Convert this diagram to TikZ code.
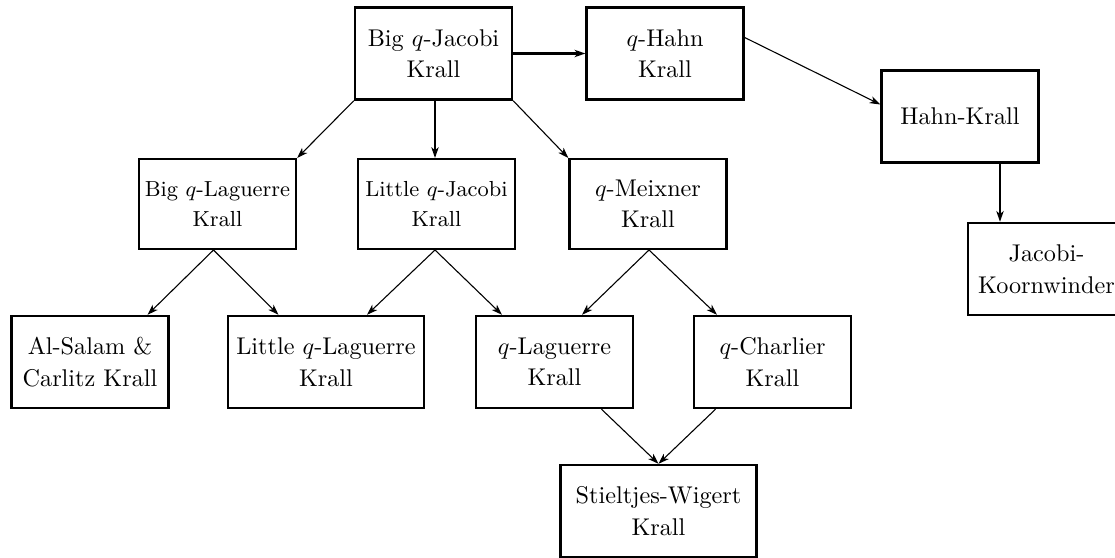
\documentclass[tikz,border=0pt]{standalone}
\usetikzlibrary{arrows.meta,calc}
\begin{document}
\begin{tikzpicture}[x=0.413pt,y=-0.413pt,
  box/.style={draw, line width=1pt, align=center, inner sep=0pt,
    minimum width=64.8pt, minimum height=38pt,
    font=\fontsize{10}{13}\selectfont},
  wide/.style={minimum width=81pt},
  mid/.style={minimum height=37pt, font=\fontsize{9}{12.4}\selectfont},
  midn/.style={minimum height=37pt},
  conn/.style={-{Stealth[length=4.4pt,width=3pt,inset=1.2pt]}, line width=0.45pt},
  tconn/.style={-{Stealth[length=4.4pt,width=3pt,inset=1.2pt]}, line width=0.9pt}]
\useasboundingbox (0,0) rectangle (1115,557);
% top row
\node[box] (bqj) at (433.5,53.5) {Big $q$-Jacobi\\Krall};
\node[box] (qh) at (665,53.5) {$q$-Hahn\\Krall};
\node[box] (hk) at (960,116.5) {Hahn-Krall};
% middle row
\node[box,mid] (bql) at (217.5,204) {Big $q$-Laguerre\\Krall};
\node[box,mid] (lqj) at (436.5,204) {Little $q$-Jacobi\\Krall};
\node[box,midn] (qm) at (648,204) {$q$-Meixner\\Krall};
\node[box] (jk) at (1046.5,269) {Jacobi-\\Koornwinder};
% bottom row
\node[box] (asc) at (90,362) {Al-Salam \&\\Carlitz Krall};
\node[box,wide] (lql) at (326,362) {Little $q$-Laguerre\\Krall};
\node[box] (ql) at (554.5,362) {$q$-Laguerre\\Krall};
\node[box] (qc) at (772.5,362) {$q$-Charlier\\Krall};
\node[box,wide] (sw) at (658.5,511) {Stieltjes-Wigert\\Krall};
% connectors from the top row
\draw[tconn] (bqj.east) -- (qh.west);
\draw[conn] ([shift={(0,-16)}]qh.east) -- ([shift={(0,-12)}]hk.west);
\coordinate (hkout) at ($(hk.south)+(40,0)$);
\draw[tconn] (hkout) -- (hkout |- jk.north);
\draw[conn] (bqj.south west) -- (bql.north east);
\coordinate (bqjv) at ($(bqj.south)+(1.5,0)$);
\draw[tconn] (bqjv) -- (bqjv |- lqj.north);
\draw[conn] (bqj.south east) -- (qm.north west);
% connectors from the middle row
\coordinate (s1) at ($(bql.south)+(-4,0)$);
\coordinate (s1a) at ($(s1)+(-66,0)$);
\coordinate (s1b) at ($(s1)+(65,0)$);
\draw[conn] (s1) -- (s1a |- asc.north);
\draw[conn] (s1) -- (s1b |- lql.north);
\coordinate (s2) at ($(lqj.south)+(-1.5,0)$);
\coordinate (s2a) at ($(s2)+(-68,0)$);
\coordinate (s2b) at ($(s2)+(67,0)$);
\draw[conn] (s2) -- (s2a |- lql.north);
\draw[conn] (s2) -- (s2b |- ql.north);
\coordinate (s3) at ($(qm.south)+(1,0)$);
\coordinate (s3a) at ($(s3)+(-67,0)$);
\coordinate (s3b) at ($(s3)+(68,0)$);
\draw[conn] (s3) -- (s3a |- ql.north);
\draw[conn] (s3) -- (s3b |- qc.north);
% connectors to Stieltjes-Wigert
\coordinate (t1) at ($(sw.north)+(-57,0)$);
\coordinate (t2) at ($(sw.north)+(57,0)$);
\draw[conn] (t1 |- ql.south) -- (sw.north);
\draw[conn] (t2 |- qc.south) -- (sw.north);
\end{tikzpicture}
\end{document}
